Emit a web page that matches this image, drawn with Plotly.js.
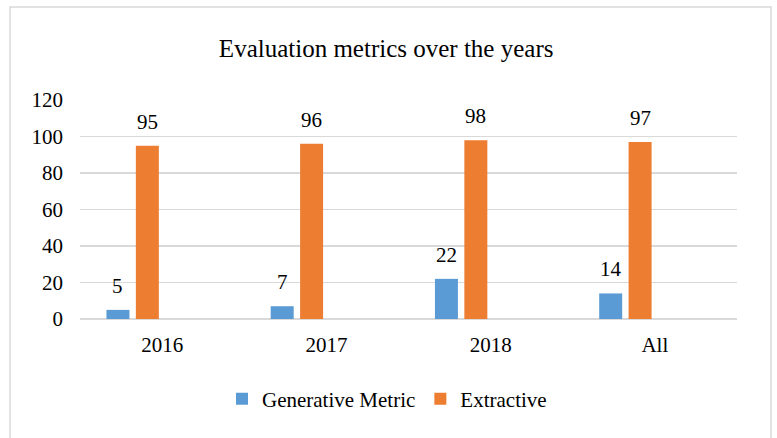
<!DOCTYPE html>
<html>
<head>
<meta charset="utf-8">
<script src="https://cdn.plot.ly/plotly-3.0.1.min.js"></script>
<style>
  html, body { margin: 0; padding: 0; background: #fff; }
  #chart { width: 777px; height: 438px; }
</style>
</head>
<body>
<div id="chart"></div>
<script>
// Data
var categories = ["2016", "2017", "2018", "All"];
var generative = [5, 7, 22, 14];
var extractive = [95, 96, 98, 97];
var seriesNames = ["Generative Metric", "Extractive"];
var yTicks = [0, 20, 40, 60, 80, 100, 120];

// Styling
var FONT = "Liberation Serif, Times New Roman, serif";
var BLUE = "#5B9BD5";
var ORANGE = "#ED7D31";
var GRID = "#d9d9d9";
var barWidth = 0.14;
var blueOffset = -0.339;
var orangeOffset = -0.16;

var traces = [
  {
    type: "bar", name: seriesNames[0], x: categories, y: generative,
    marker: { color: BLUE, line: { width: 0 } },
    width: barWidth, offset: blueOffset, hoverinfo: "none"
  },
  {
    type: "bar", name: seriesNames[1], x: categories, y: extractive,
    marker: { color: ORANGE, line: { width: 0 } },
    width: barWidth, offset: orangeOffset, hoverinfo: "none"
  }
];

var annotations = [];
function addLabels(vals, off) {
  vals.forEach(function (v, i) {
    annotations.push({
      x: i + off + barWidth / 2, y: v, xref: "x", yref: "y",
      text: String(v), showarrow: false,
      xanchor: "center", yanchor: "middle", yshift: 24,
      font: { family: FONT, size: 21, color: "#000" }
    });
  });
}
addLabels(generative, blueOffset);
addLabels(extractive, orangeOffset);

var layout = {
  width: 777, height: 438,
  margin: { l: 80, r: 40, t: 100, b: 119 },
  paper_bgcolor: "#fff", plot_bgcolor: "#fff",
  showlegend: true,
  barmode: "group",
  font: { family: FONT, size: 21, color: "#000" },
  title: {
    text: "Evaluation metrics over the years",
    font: { family: FONT, size: 25, color: "#000" },
    x: 0.497, xref: "container", xanchor: "center",
    y: 1 - 48 / 438, yref: "container", yanchor: "middle"
  },
  xaxis: {
    type: "category",
    range: [-0.5, 3.5],
    showgrid: false, showline: false, zeroline: false,
    ticks: "", ticklabelstandoff: 11,
    tickfont: { family: FONT, size: 21, color: "#000" },
    fixedrange: true
  },
  yaxis: {
    range: [0, 120],
    tickvals: yTicks,
    ticktext: yTicks.map(String),
    showgrid: true, gridcolor: GRID, gridwidth: 1.5,
    zeroline: true, zerolinecolor: GRID, zerolinewidth: 1.5,
    showline: false, ticks: "", ticklabelstandoff: 16,
    tickfont: { family: FONT, size: 21, color: "#000" },
    fixedrange: true
  },
  legend: {
    orientation: "h",
    x: 387 / 777, xref: "container", xanchor: "center",
    y: 1 - 399 / 438, yref: "container", yanchor: "middle",
    font: { family: FONT, size: 21, color: "#000" },
    itemwidth: 30, traceorder: "normal"
  },
  annotations: annotations,
  shapes: [
    {
      type: "rect", xref: "paper", yref: "paper",
      x0: (10 - 80) / 657, x1: (771 - 80) / 657,
      y0: (319 - 445) / 219, y1: (319 - 7) / 219,
      line: { color: GRID, width: 1.5 }, fillcolor: "rgba(0,0,0,0)", layer: "below"
    }
  ]
};

Plotly.newPlot("chart", traces, layout, { staticPlot: true, displayModeBar: false });
</script>
</body>
</html>
